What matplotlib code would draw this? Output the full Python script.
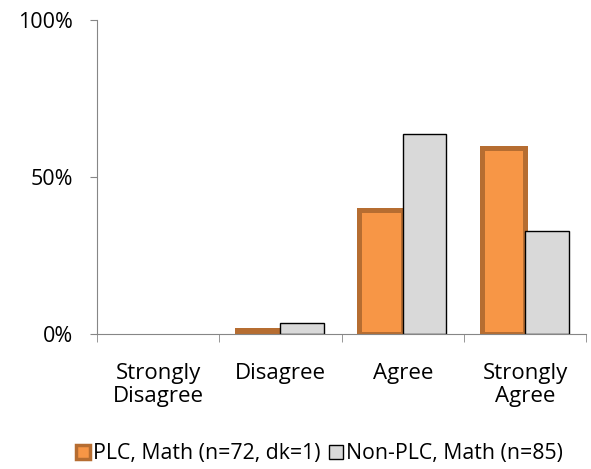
import numpy as np
import matplotlib.pyplot as plt

categories = ['Strongly\nDisagree', 'Disagree', 'Agree', 'Strongly\nAgree']
plc = [0.0, 1.4, 39.4, 59.2]
non_plc = [0.0, 3.5, 63.5, 32.9]
labels = ['PLC, Math (n=72, dk=1)', 'Non-PLC, Math (n=85)']

plt.rcParams['font.family'] = ['Open Sans', 'DejaVu Sans']

fig = plt.figure(figsize=(5.91, 4.69), dpi=100)
ax = fig.add_axes([0.164, 0.288, 0.828, 0.67])

x = np.arange(len(categories))
w = 0.355
# zero-height bars get no outline, like the original
plc_lw = [3.6 if v > 0 else 0 for v in plc]
non_lw = [1.0 if v > 0 else 0 for v in non_plc]
ax.bar(x - w / 2, plc, w, color='#F79646', edgecolor='#B66D31', linewidth=plc_lw,
       label=labels[0])
ax.bar(x + w / 2, non_plc, w, color='#D9D9D9', edgecolor='black', linewidth=non_lw,
       label=labels[1])

ax.set_xlim(-0.5, 3.5)
ax.set_ylim(0, 100)
ax.set_yticks([0, 50, 100])
ax.set_yticklabels(['0%', '50%', '100%'], fontsize=15.5)
ax.set_xticks(x)
ax.set_xticklabels(categories, fontsize=16, linespacing=1.15)
ax.set_xticks(np.arange(-0.5, 4.0, 1.0), minor=True)
ax.tick_params(axis='x', which='major', length=0, pad=21)
ax.tick_params(axis='x', which='minor', length=6, color='#868686', direction='out')
ax.tick_params(axis='y', length=5, color='#868686', direction='out', pad=12)

for s in ['top', 'right']:
    ax.spines[s].set_visible(False)
for s in ['left', 'bottom']:
    ax.spines[s].set_color('#868686')

leg = fig.legend(loc='center', ncol=2, frameon=False, fontsize=15.3,
                 handlelength=0.65, handleheight=0.65, handletextpad=0.15,
                 columnspacing=0.4, borderpad=0.1, bbox_to_anchor=(0.54, 0.032))
leg.legend_handles[0].set_linewidth(2.5)
leg.legend_handles[1].set_linewidth(1.0)

fig.savefig('out.png', dpi=100)
